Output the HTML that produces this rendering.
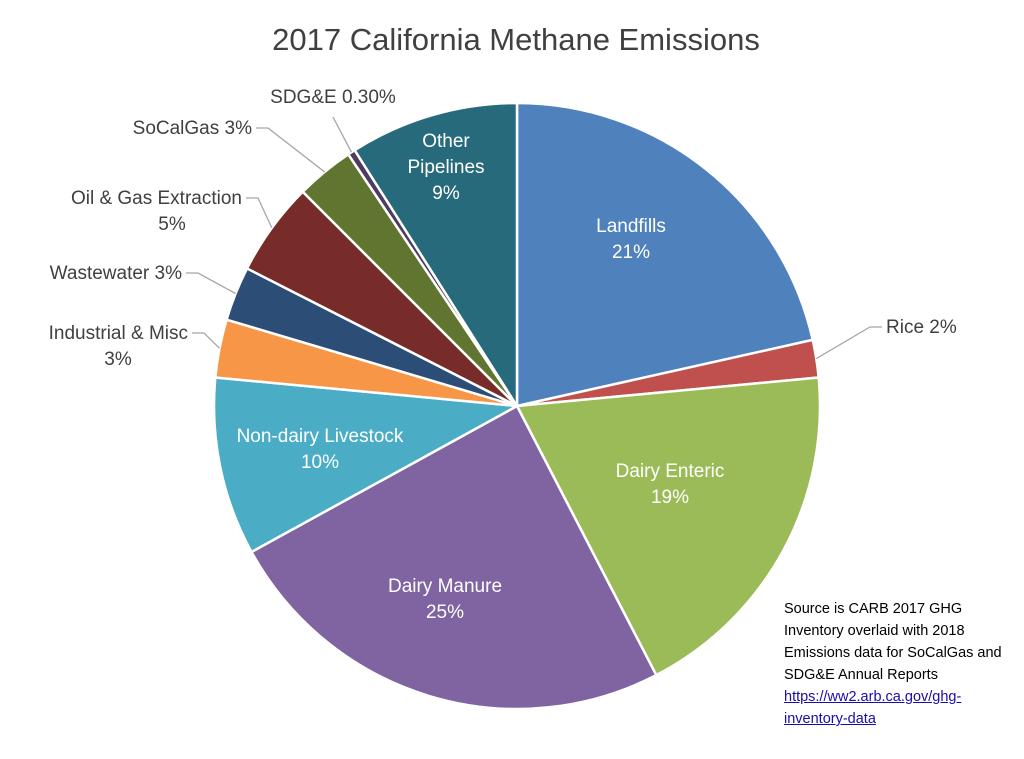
<!DOCTYPE html>
<html><head><meta charset="utf-8"><style>
body{margin:0;background:#fff;width:1024px;height:759px;overflow:hidden;font-family:"Liberation Sans",sans-serif}
svg{display:block}
.src{position:absolute;left:784px;top:598px;font-size:14.5px;line-height:22px;color:#000}
.src a{color:#1a0dab;text-decoration:underline}
</style></head><body>
<svg id="chart" width="1024" height="759" viewBox="0 0 1024 759">
<text x="516" y="50" text-anchor="middle" font-size="31" fill="#404040">2017 California Methane Emissions</text>
<g id="slices"></g><g id="labels"></g>
</svg>
<div class="src">Source is CARB 2017 GHG<br>Inventory overlaid with 2018<br>Emissions data for SoCalGas and<br>SDG&amp;E Annual Reports<br><a>https://ww2.arb.ca.gov/ghg-<br>inventory-data</a></div>
<script>
const categories=["Landfills","Rice","Dairy Enteric","Dairy Manure","Non-dairy Livestock","Industrial & Misc","Wastewater","Oil & Gas Extraction","SoCalGas","SDG&E","Other Pipelines"];
const values=[21.5,2,18.9,24.6,9.5,3.1,2.9,5,3.1,0.4,9];
const labelText=[["Landfills","21%"],["Rice 2%"],["Dairy Enteric","19%"],["Dairy Manure","25%"],["Non-dairy Livestock","10%"],["Industrial & Misc","3%"],["Wastewater 3%"],["Oil & Gas Extraction","5%"],["SoCalGas 3%"],["SDG&E 0.30%"],["Other","Pipelines","9%"]];
const colors=["#4f81bd","#c0504d","#9bbb59","#8064a2","#4bacc6","#f79646","#2c4d75","#772c2a","#5f7530","#4d3b62","#276a7c"];
const NS="http://www.w3.org/2000/svg";
const cx=517,cy=406,R=303;
const total=values.reduce((a,b)=>a+b,0);
function pt(a,r){return [cx+r*Math.sin(a),cy-r*Math.cos(a)];}
const sg=document.getElementById('slices'),lg=document.getElementById('labels');
const insidePos={0:[631,232],2:[670,477],3:[445,592],4:[320,442],10:[446,147]};
const outside={1:[886,333,"start"],5:[188,339,"end"],6:[182,279,"end"],7:[242,204,"end"],8:[252,134,"end"],9:[333,103,"middle"]};
let acc=0;
values.forEach((v,i)=>{
  const a0=acc/total*2*Math.PI;acc+=v;const a1=acc/total*2*Math.PI;
  const p0=pt(a0,R),p1=pt(a1,R);
  const path=document.createElementNS(NS,'path');
  path.setAttribute('d',`M${cx},${cy}L${p0[0]},${p0[1]}A${R},${R} 0 ${a1-a0>Math.PI?1:0} 1 ${p1[0]},${p1[1]}Z`);
  path.setAttribute('fill',colors[i]);path.setAttribute('stroke','#fff');path.setAttribute('stroke-width','2.5');
  
  
  sg.appendChild(path);
  const am=(a0+a1)/2;const lines=labelText[i];
  const t=document.createElementNS(NS,'text');
  
  
  t.setAttribute('font-size','19');
  let x,y,anchor="middle",fill="#fff";
  if(insidePos[i]!==undefined){x=insidePos[i][0];y=insidePos[i][1];}
  else{const o=outside[i];x=o[0];y=o[1];anchor=o[2];fill="#404040";
    const e=pt(am,R);const ln=document.createElementNS(NS,'path');
    let lx=anchor==="start"?x-4:anchor==="end"?x+4:x, ly=anchor==="middle"?y+14:y-6;
    ln.setAttribute('d',`M${lx},${ly}L${lx+(anchor==="end"?12:anchor==="start"?-12:0)},${ly}L${e[0]},${e[1]}`);
    ln.setAttribute('fill','none');ln.setAttribute('stroke','#a6a6a6');ln.setAttribute('stroke-width','1.3');
    
    
    lg.appendChild(ln);}
  t.setAttribute('text-anchor',anchor);t.setAttribute('fill',fill);
  lines.forEach((s,k)=>{const ts=document.createElementNS(NS,'tspan');ts.setAttribute('x',x);ts.setAttribute('y',y+k*26);
    if(insidePos[i]===undefined&&anchor==="end"&&k>0){ts.setAttribute('text-anchor','middle');ts.setAttribute('x',x-70);}
    ts.textContent=s;t.appendChild(ts);});
  lg.appendChild(t);
});
</script>
</body></html>
